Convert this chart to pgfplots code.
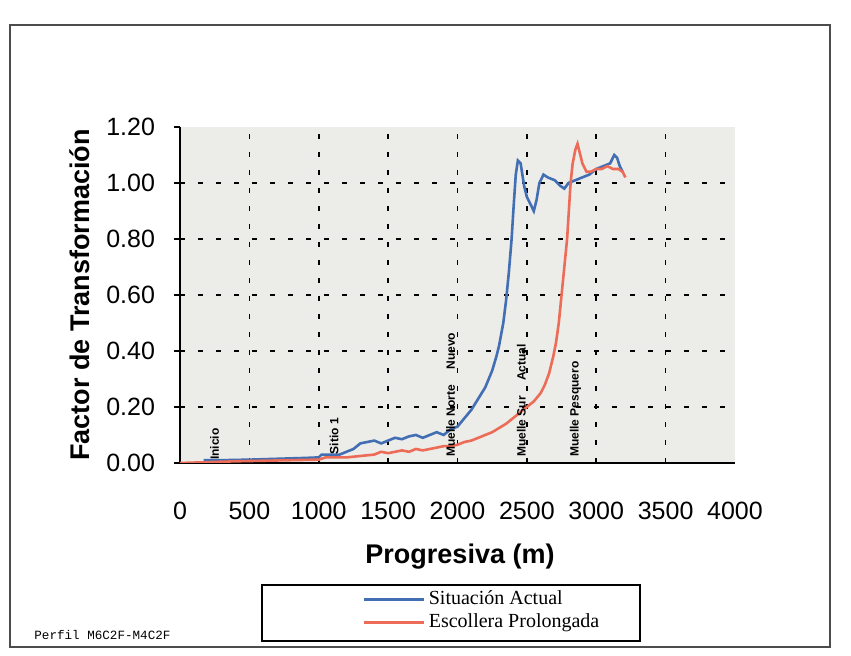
\documentclass[border=0pt]{standalone}
\usepackage{pgfplots}
\pgfplotsset{compat=1.18}
\usepackage{fontspec}
\setmainfont{Liberation Sans}
\newfontfamily\seriffont{Liberation Serif}
\newfontfamily\monofont{Liberation Mono}
\definecolor{bluec}{RGB}{66,110,180}
\definecolor{redc}{RGB}{236,108,88}
\definecolor{plotbg}{RGB}{236,236,232}
\begin{document}
\begin{tikzpicture}
\useasboundingbox (-90pt,-96.5pt) rectangle (335.5pt,231.5pt);
\fill[white] (-90pt,-96.5pt) rectangle (335.5pt,231.5pt);
\draw[gray!60!black, line width=0.6pt] (-85pt,-92pt) rectangle (325pt,219pt);
\begin{axis}[
  at={(0,0)}, anchor=south west,
  scale only axis, width=277.5pt, height=168pt,
  xmin=0, xmax=4000, ymin=0, ymax=1.2,
  axis background/.style={fill=plotbg},
  axis x line*=bottom, axis y line*=left,
  axis line style={black, line width=0.7pt},
  xtick={0,500,...,4000}, ytick={0,0.2,0.4,0.6,0.8,1.0,1.2},
  extra x ticks={500,1000,1500,2000,2500,3000,3500},
  extra x tick labels={},
  extra y ticks={0.2,0.4,0.6,0.8,1.0},
  extra y tick labels={},
  extra x tick style={grid=major, major tick length=0pt},
  extra y tick style={grid=major, major tick length=0pt},
  grid style={black, line width=0.8pt, dash pattern=on 2.5pt off 6.5pt},
  tick align=outside, major tick length=3pt,
  tick style={black, line width=0.6pt},
  xtick style={draw=none},
  /pgf/number format/assume math mode=true,
  /pgf/number format/set thousands separator={},
  xticklabel style={font=\fontsize{12.5}{14}\selectfont, yshift=-13pt},
  yticklabel style={font=\fontsize{12.5}{14}\selectfont, xshift=-6pt,
    /pgf/number format/fixed, /pgf/number format/fixed zerofill,
    /pgf/number format/precision=2},
  legend style={at={(axis description cs:0.324,-0.44)}, anchor=west,
    draw=none, fill=none, font=\seriffont\fontsize{10}{11}\selectfont,
    row sep=-1pt, inner sep=1pt},
  legend cell align=left,
  legend image code/.code={\draw[#1] (0pt,0pt) -- (30pt,0pt);},
]
\addplot[color=bluec, line width=1.3pt] coordinates {
(170,0.01) (300,0.01) (500,0.012) (700,0.015) (900,0.018) (1000,0.02)
(1020,0.03) (1150,0.03) (1200,0.04) (1250,0.05) (1300,0.07) (1350,0.075)
(1400,0.08) (1450,0.07) (1500,0.08) (1550,0.09) (1600,0.085) (1650,0.095)
(1700,0.10) (1750,0.09) (1800,0.10) (1850,0.11) (1900,0.10) (1950,0.12)
(2000,0.13) (2050,0.16) (2100,0.19) (2150,0.23) (2200,0.27) (2250,0.33)
(2280,0.38) (2300,0.42) (2330,0.50) (2350,0.58) (2370,0.68) (2390,0.80)
(2405,0.92) (2420,1.03) (2435,1.08) (2455,1.07) (2480,0.99)
(2500,0.95) (2530,0.92) (2550,0.90) (2570,0.94) (2590,1.00) (2620,1.03)
(2650,1.02) (2700,1.01) (2740,0.99) (2770,0.98) (2800,1.00) (2850,1.01)
(2900,1.02) (2950,1.03) (3000,1.05) (3050,1.06) (3100,1.07) (3130,1.10)
(3150,1.09) (3170,1.06) (3190,1.04)
};
\addlegendentry{Situación Actual}
\addplot[color=redc, line width=1.3pt] coordinates {
(0,0) (200,0.003) (400,0.006) (600,0.008) (800,0.01) (1000,0.012)
(1050,0.02) (1200,0.02) (1300,0.025) (1400,0.03) (1450,0.04) (1500,0.035)
(1550,0.04) (1600,0.045) (1650,0.04) (1700,0.05) (1750,0.045) (1800,0.05)
(1850,0.055) (1900,0.06) (1950,0.06) (2000,0.065) (2050,0.075) (2100,0.08)
(2150,0.09) (2200,0.10) (2250,0.11) (2300,0.125) (2350,0.14) (2400,0.16)
(2450,0.18) (2500,0.20) (2550,0.22) (2600,0.25) (2630,0.28) (2660,0.32)
(2690,0.38) (2710,0.43) (2730,0.50) (2750,0.60) (2770,0.70) (2790,0.80)
(2805,0.92) (2815,1.00) (2830,1.07) (2850,1.12) (2865,1.14) (2880,1.11)
(2900,1.07) (2930,1.04) (2960,1.04) (3000,1.05) (3040,1.05) (3080,1.06)
(3120,1.05) (3160,1.05) (3190,1.04) (3210,1.02)
};
\addlegendentry{Escollera Prolongada}
\node[rotate=90, anchor=west, font=\bfseries\fontsize{6}{7}\selectfont, inner sep=0pt] at (axis cs:250,0.01) {Inicio};
\node[rotate=90, anchor=west, font=\bfseries\fontsize{6}{7}\selectfont, inner sep=0pt] at (axis cs:1110,0.03) {Sitio 1};
\node[rotate=90, anchor=west, font=\bfseries\fontsize{6}{7}\selectfont, inner sep=0pt] at (axis cs:1950,0.02) {Muelle Norte \quad Nuevo};
\node[rotate=90, anchor=west, font=\bfseries\fontsize{6}{7}\selectfont, inner sep=0pt] at (axis cs:2460,0.02) {Muelle Sur \quad Actual};
\node[rotate=90, anchor=west, font=\bfseries\fontsize{6}{7}\selectfont, inner sep=0pt] at (axis cs:2850,0.02) {Muelle Pesquero \quad};
\end{axis}
\node[rotate=90, font=\bfseries\fontsize{13.5}{15}\selectfont] at (-50pt,84pt) {Factor de Transformación};
\node[font=\bfseries\fontsize{13.5}{15}\selectfont] at (140pt,-47pt) {Progresiva (m)};
\draw[black, line width=0.6pt] (41pt,-61pt) rectangle (230pt,-89pt);
\node[anchor=west, font=\monofont\fontsize{6.3}{7}\selectfont, inner sep=0pt] at (-73pt,-86pt) {Perfil M6C2F-M4C2F};
\end{tikzpicture}
\end{document}
